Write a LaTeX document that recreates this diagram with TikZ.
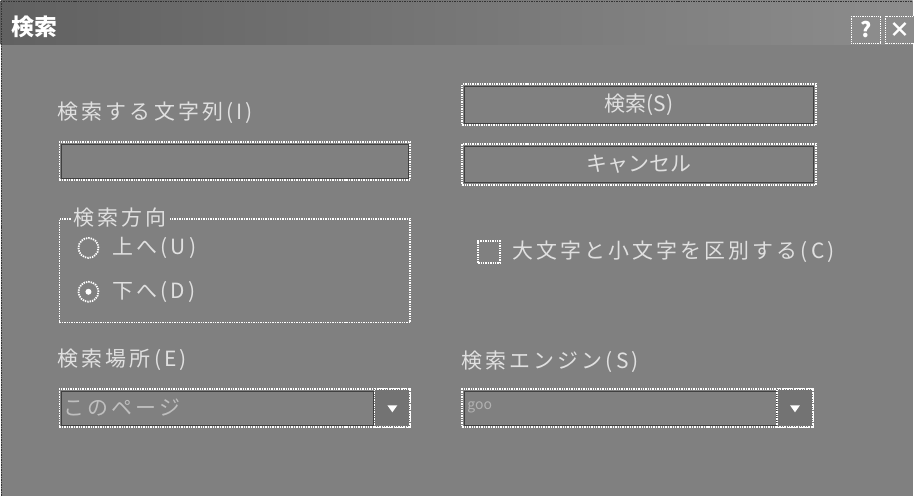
\documentclass[tikz,border=0pt]{standalone}
\usepackage{fontspec}
\setmainfont{Noto Sans CJK JP}
\usetikzlibrary{
    positioning,
    calc
}
\colorlet{winbg}{black!50}
\colorlet{wintext}{white!88!black}

\begin{document}
\begin{tikzpicture}[
    x=1pt, y=-1pt,
    % dialog look
    caption/.style={
        font=\fontsize{23}{23}\selectfont\bfseries,
        text=white,
        anchor=west,
        inner sep=0pt
    },
    lbl/.style={
        font=\fontsize{21}{21}\selectfont\addfontfeatures{LetterSpace=15},
        text=wintext,
        anchor=west,
        inner sep=0pt
    },
    field/.style={
        draw=white,
        line width=1.8pt,
        dash pattern=on 1.4pt off 1pt,
        fill=winbg,
        anchor=north west,
        minimum width=352pt,
        minimum height=38pt,
        inner sep=0pt
    },
    pushbtn/.style={
        field,
        minimum width=355pt,
        minimum height=41pt,
        font=\fontsize{21}{21}\selectfont,
        text=wintext
    },
    inset/.style={
        draw=black!75,
        line width=0.8pt
    },
    capbtn/.style={
        draw=white,
        line width=1.2pt,
        dash pattern=on 1pt off 0.8pt,
        fill=black!45,
        minimum width=29pt,
        minimum height=27pt,
        inner sep=0pt,
        font=\fontsize{21}{21}\selectfont\bfseries,
        text=white
    },
    dropbtn/.style={
        draw=white,
        line width=1.8pt,
        dash pattern=on 1.4pt off 1pt,
        fill=black!55,
        minimum width=36pt,
        minimum height=38pt,
        inner sep=0pt
    },
    radio/.style={
        circle,
        draw=white,
        line width=1.8pt,
        dash pattern=on 1.4pt off 1pt,
        minimum size=20pt,
        inner sep=0pt
    },
    checkbox/.style={
        draw=white,
        line width=1.8pt,
        dash pattern=on 1.4pt off 1pt,
        minimum size=22pt,
        inner sep=0pt
    }
]
    % Window and title bar
    \fill[winbg] (0,0) rectangle (915,497);
    \shade[left color=black!62, right color=black!45] (0,0) rectangle (915,44);
    \draw[black!80, line width=1.5pt, dash pattern=on 1.5pt off 1pt] (1,0) -- (1,497);
    \draw[black!80, line width=1.5pt, dash pattern=on 1.5pt off 1pt] (0,1) -- (915,1);
    \node[caption] (title) at (11,26) {検索};
    \node[capbtn] (help) at (868,29) {?};
    \node[capbtn, right=4pt of help] (close) {×};

    % Search text
    \node[lbl] (findlbl) at (57,112) {検索する文字列(I)};
    \node[field] (findbox) at (58,141) {};
    \draw[inset] ([shift={(3,3)}]findbox.north west) rectangle ([shift={(-3,-3)}]findbox.south east);

    % Buttons on the right
    \node[pushbtn] (findbtn) at (462,83) {検索(S)};
    \node[pushbtn, below=17pt of findbtn] (cancelbtn) {キャンセル};
    \draw[inset] ([shift={(3,3)}]findbtn.north west) rectangle ([shift={(-3,-3)}]findbtn.south east);
    \draw[inset] ([shift={(3,3)}]cancelbtn.north west) rectangle ([shift={(-3,-3)}]cancelbtn.south east);

    % Direction group
    \node[field, fill=none, minimum height=104pt] (dirbox) at (58,218) {};
    \node[lbl, fill=winbg, inner sep=3pt] (dirlbl) at (70,218) {検索方向};
    \node[radio] (up) at (88,248) {};
    \node[lbl, right=13pt of up] (uplbl) {上へ(U)};
    \node[radio] (down) at (88,292) {};
    \fill[white] (down) circle (3pt);
    \node[lbl, right=13pt of down] (downlbl) {下へ(D)};

    % Case option
    \node[checkbox] (casebox) at (490,252) {};
    \node[lbl, right=11pt of casebox] (caselbl) {大文字と小文字を区別する(C)};

    % Scope combo
    \node[lbl] (scopelbl) at (57,360) {検索場所(E)};
    \node[field] (scopebox) at (58,389) {};
    \draw[inset] ([shift={(3,3)}]scopebox.north west) rectangle ([shift={(-38,-3)}]scopebox.south east);
    \node[lbl, text=white!75!black] (scopeval) at (63,408) {このページ};
    \node[dropbtn, anchor=east] (scopearr) at (scopebox.east) {};
    \fill[white] ($(scopearr.center)+(-5,-3)$) -- ++(10,0) -- ++(-5,7) -- cycle;

    % Engine combo
    \node[lbl] (englbl) at (462,362) {検索エンジン(S)};
    \node[field] (engbox) at (462,389) {};
    \draw[inset] ([shift={(3,3)}]engbox.north west) rectangle ([shift={(-38,-3)}]engbox.south east);
    \node[lbl, font=\fontsize{14}{14}\selectfont, text=white!70!black] (engval) at (468,408) {goo};
    \node[dropbtn, anchor=east] (engarr) at (engbox.east) {};
    \fill[white] ($(engarr.center)+(-5,-3)$) -- ++(10,0) -- ++(-5,7) -- cycle;
\end{tikzpicture}
\end{document}
